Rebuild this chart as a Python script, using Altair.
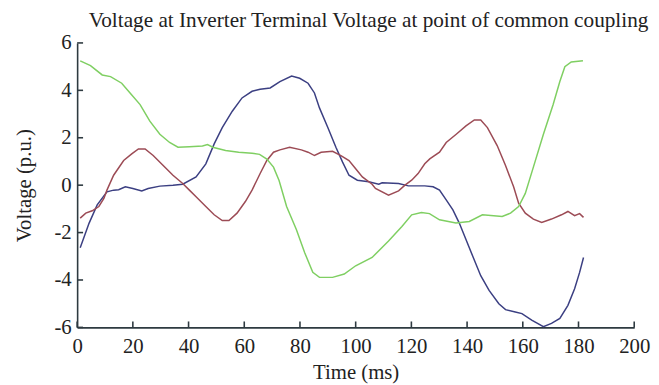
import altair as alt
import pandas as pd

# Blue series (navy)
blue_t = [1.1, 4.3, 7.2, 10.7, 13.1, 14.9, 17.3, 20, 23.2, 25.5, 29.7, 34.4, 37.9, 42.7, 46.2, 49.2,
          52.1, 55.7, 59.2, 62.8, 65.7, 69.3, 72.8, 77, 79.9, 82.9, 85.2, 87, 90, 92.9, 95.3, 97.6,
          100.6, 104.7, 108.3, 109.5, 115.4, 118.9, 124.8, 127.8, 130.1, 132.5, 134.9, 137.2, 139.6,
          142, 144.9, 147.9, 151.4, 153.8, 157.3, 159.7, 163.2, 167.4, 170.3, 173.3, 176.2, 178.6,
          180.4, 181.8]
blue_v = [-2.64, -1.6, -0.83, -0.28, -0.21, -0.19, -0.07, -0.14, -0.24, -0.14, -0.04, 0.0, 0.04, 0.35,
          0.9, 1.74, 2.43, 3.12, 3.68, 3.96, 4.05, 4.1, 4.37, 4.6, 4.51, 4.3, 3.89, 3.26, 2.43, 1.6,
          0.97, 0.42, 0.21, 0.14, 0.04, 0.1, 0.07, -0.03, -0.03, -0.07, -0.21, -0.62, -1.04, -1.6,
          -2.29, -2.99, -3.82, -4.44, -5.0, -5.25, -5.35, -5.42, -5.69, -5.97, -5.83, -5.62, -5.07,
          -4.37, -3.68, -3.05]

# Red series (maroon)
red_t = [1.1, 3.1, 5.4, 7.8, 9.6, 10.7, 13.1, 16.7, 19.6, 22, 24.4, 27.3, 30.9, 34.4, 37.9, 40.3,
         42.7, 46.2, 49.2, 52.1, 54.5, 57.4, 60.4, 62.8, 65.7, 68.1, 70.5, 72.8, 76.3, 80.5, 82.9,
         85.2, 87.6, 91.7, 94.7, 97.6, 100, 102.4, 105.9, 107.1, 111.8, 115.4, 117.7, 120.1, 122.4,
         124.8, 126.6, 130.1, 132.5, 136.1, 139.6, 142.6, 144.9, 147.3, 150.8, 153.8, 156.7, 158.5,
         160.9, 163.8, 166.8, 170.3, 173.9, 176.2, 178.6, 180.4, 181.8]
red_v = [-1.39, -1.18, -1.08, -0.9, -0.56, -0.21, 0.42, 1.04, 1.32, 1.53, 1.53, 1.25, 0.83, 0.42, 0.07,
         -0.21, -0.49, -0.9, -1.25, -1.49, -1.49, -1.18, -0.69, -0.21, 0.49, 1.04, 1.39, 1.49, 1.6,
         1.49, 1.39, 1.25, 1.39, 1.43, 1.25, 1.04, 0.69, 0.35, 0.04, -0.14, -0.42, -0.24, 0.0, 0.21,
         0.49, 0.9, 1.11, 1.39, 1.8, 2.15, 2.5, 2.75, 2.75, 2.43, 1.67, 0.83, -0.07, -0.76, -1.18,
         -1.43, -1.57, -1.43, -1.25, -1.11, -1.29, -1.2, -1.36]

# Green series
green_t = [1.1, 4.8, 9, 12, 16, 19, 22.6, 26.1, 29.7, 33.2, 36.2, 40.3, 45, 46.8, 48.7, 53.3, 58,
           62.8, 65.5, 68.1, 70.5, 72.5, 75.2, 78.7, 81.7, 84.6, 87, 91.7, 95.9, 100, 105.9, 111.8,
           116.6, 120.1, 123.6, 126.5, 130.1, 136, 140.8, 145.5, 152.6, 155.6, 158.5, 160.9, 163.8,
           167.4, 170.9, 173.3, 175.1, 177.4, 181.6]
green_v = [5.24, 5.04, 4.65, 4.58, 4.3, 3.89, 3.4, 2.7, 2.15, 1.8, 1.6, 1.62, 1.65, 1.71, 1.6, 1.46,
           1.39, 1.35, 1.3, 1.1, 0.76, 0.2, -0.9, -1.87, -2.85, -3.68, -3.89, -3.89, -3.75, -3.4,
           -3.05, -2.36, -1.74, -1.25, -1.15, -1.2, -1.46, -1.6, -1.53, -1.25, -1.32, -1.18, -0.9,
           -0.35, 0.76, 2.15, 3.4, 4.37, 5.0, 5.2, 5.25]

x_ticks = [0, 20, 40, 60, 80, 100, 120, 140, 160, 180, 200]
y_ticks = [-6, -4, -2, 0, 2, 4, 6]

names = ["Blue", "Red", "Green"]
colors = ["#3b3f82", "#9c4b55", "#7fcf62"]

rows = []
for name, ts, vs in zip(names, [blue_t, red_t, green_t], [blue_v, red_v, green_v]):
    for i, (t, v) in enumerate(zip(ts, vs)):
        rows.append({"series": name, "t": t, "v": v, "i": i})
df = pd.DataFrame(rows)

W, H = 564, 288
FONT = "Liberation Serif"
AXIS_COLOR = "#2e3a40"

xscale = alt.Scale(domain=[0, 200], nice=False, zero=False)
yscale = alt.Scale(domain=[-6, 6], nice=False, zero=False)

lines = alt.Chart(df).mark_line(strokeWidth=1.5).encode(
    x=alt.X("t:Q", scale=xscale,
            axis=alt.Axis(title="Time (ms)", values=x_ticks, tickSize=0, labelPadding=8,
                          labelFontSize=21, titleFontSize=21, labelFont=FONT, titleFont=FONT,
                          titleFontWeight="normal", labelColor="#222", titleColor="#222",
                          domainColor=AXIS_COLOR, domainWidth=1.6, grid=False, titlePadding=6,
                          labelFlush=False)),
    y=alt.Y("v:Q", scale=yscale,
            axis=alt.Axis(title="Voltage (p.u.)", values=y_ticks, tickSize=0, labelPadding=6,
                          labelFontSize=21, titleFontSize=21, labelFont=FONT, titleFont=FONT,
                          titleFontWeight="normal", labelColor="#222", titleColor="#222",
                          domainColor=AXIS_COLOR, domainWidth=1.6, grid=False, titlePadding=20,
                          labelExpr="'' + datum.value", labelFlush=False)),
    color=alt.Color("series:N", scale=alt.Scale(domain=names, range=colors), legend=None),
    order="i:Q",
)

xt = alt.Chart(pd.DataFrame({"t": x_ticks})).mark_rule(color=AXIS_COLOR, strokeWidth=1.6).encode(
    x=alt.X("t:Q", scale=xscale), y=alt.value(H), y2=alt.value(H - 6)
)
yt = alt.Chart(pd.DataFrame({"v": y_ticks})).mark_rule(color=AXIS_COLOR, strokeWidth=1.6).encode(
    y=alt.Y("v:Q", scale=yscale), x=alt.value(0), x2=alt.value(6)
)

chart = alt.layer(lines, xt, yt).properties(
    width=W, height=H,
    title=alt.TitleParams("Voltage at Inverter Terminal Voltage at point of common coupling",
                          font=FONT, fontSize=21.5, fontWeight="normal", color="#222",
                          anchor="middle", offset=1, dx=13),
    autosize=alt.AutoSizeParams(type="none"),
    padding={"left": 70, "top": 33, "right": 17, "bottom": 60},
).configure_view(stroke=None)

chart.save("out.html", embed_options={"renderer": "svg", "actions": False})
